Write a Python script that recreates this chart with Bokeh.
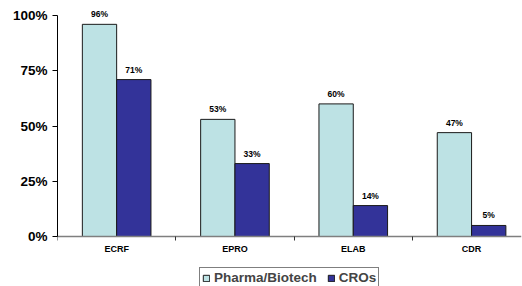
from bokeh.plotting import figure
from bokeh.models import Range1d, FixedTicker, ColumnDataSource, Legend, LegendItem, LinearAxis
from bokeh.core.properties import value
from bokeh.embed import file_html
from bokeh.resources import INLINE

categories = ["ECRF", "EPRO", "ELAB", "CDR"]
pharma = [96, 53, 60, 47]
cros = [71, 33, 14, 5]
series_names = ["Pharma/Biotech", "CROs"]
y_ticks = [0, 25, 50, 75, 100]

light = "#BDE2E4"
dark = "#333399"
FONT = "Liberation Sans"

centers = [i + 0.5 for i in range(len(categories))]
bw = 0.29

p = figure(width=522, height=286, output_backend="svg", toolbar_location=None,
           x_range=Range1d(0, 3.922), y_range=Range1d(-22.62, 103.62),
           x_axis_location=None,
           min_border_left=57, min_border_top=7, min_border_right=1, min_border_bottom=0)
p.outline_line_color = None
p.xgrid.visible = False
p.ygrid.visible = False
p.background_fill_color = "white"

src = ColumnDataSource(dict(
    xl=[c - bw / 2 for c in centers], xr=[c + bw / 2 for c in centers],
    pharma=pharma, cros=cros,
    pl=[f"{v}%" for v in pharma], cl=[f"{v}%" for v in cros]))

r1 = p.vbar(x="xl", top="pharma", bottom=0, width=bw, source=src,
            fill_color=light, line_color="#1a1a1a", line_width=1)
r2 = p.vbar(x="xr", top="cros", bottom=0, width=bw, source=src,
            fill_color=dark, line_color="#1a1a1a", line_width=1)

for xcol, ycol, tcol in (("xl", "pharma", "pl"), ("xr", "cros", "cl")):
    p.text(x=xcol, y=ycol, text=tcol, source=src, text_align="center", text_baseline="bottom",
           y_offset=-5, text_font=value(FONT), text_font_style="bold", text_font_size="8.5px",
           text_color="black")

# y axis
ya = p.yaxis[0]
ya.ticker = FixedTicker(ticks=y_ticks)
ya.major_label_overrides = {t: f"{t}%" for t in y_ticks}
ya.bounds = (0, 100)
ya.axis_line_color = "black"
ya.axis_line_width = 1
ya.major_tick_line_color = "black"
ya.major_tick_out = 5
ya.major_tick_in = 0
ya.minor_tick_line_color = None
ya.major_label_standoff = 5
ya.major_label_text_font = FONT
ya.major_label_text_font_style = "bold"
ya.major_label_text_font_size = "13.5px"
ya.major_label_text_color = "black"

# x axis, drawn at y = 0 inside the frame
xa = LinearAxis(fixed_location=0)
xa.ticker = FixedTicker(ticks=centers, minor_ticks=[0, 1, 2, 3, 4])
xa.major_label_overrides = {c: n for c, n in zip(centers, categories)}
xa.axis_line_color = "#7f7f7f"
xa.axis_line_width = 1.5
xa.major_tick_line_color = None
xa.major_tick_out = 0
xa.major_tick_in = 0
xa.minor_tick_line_color = "#333333"
xa.minor_tick_out = 4
xa.minor_tick_in = 0
xa.major_label_standoff = 3
xa.major_label_text_font = FONT
xa.major_label_text_font_style = "bold"
xa.major_label_text_font_size = "9px"
xa.major_label_text_color = "black"
p.add_layout(xa, "below")

legend = Legend(items=[LegendItem(label=series_names[0], renderers=[r1]),
                       LegendItem(label=series_names[1], renderers=[r2])],
                orientation="horizontal", location=(142, -2),
                label_text_font=FONT, label_text_font_style="bold", label_text_font_size="13.5px",
                glyph_width=8, glyph_height=8, label_standoff=4, spacing=10, padding=2,
                label_height=14, margin=0,
                border_line_color="black", border_line_width=1, background_fill_alpha=1)
p.add_layout(legend, "center")

open("out.html", "w").write(file_html(p, INLINE))
